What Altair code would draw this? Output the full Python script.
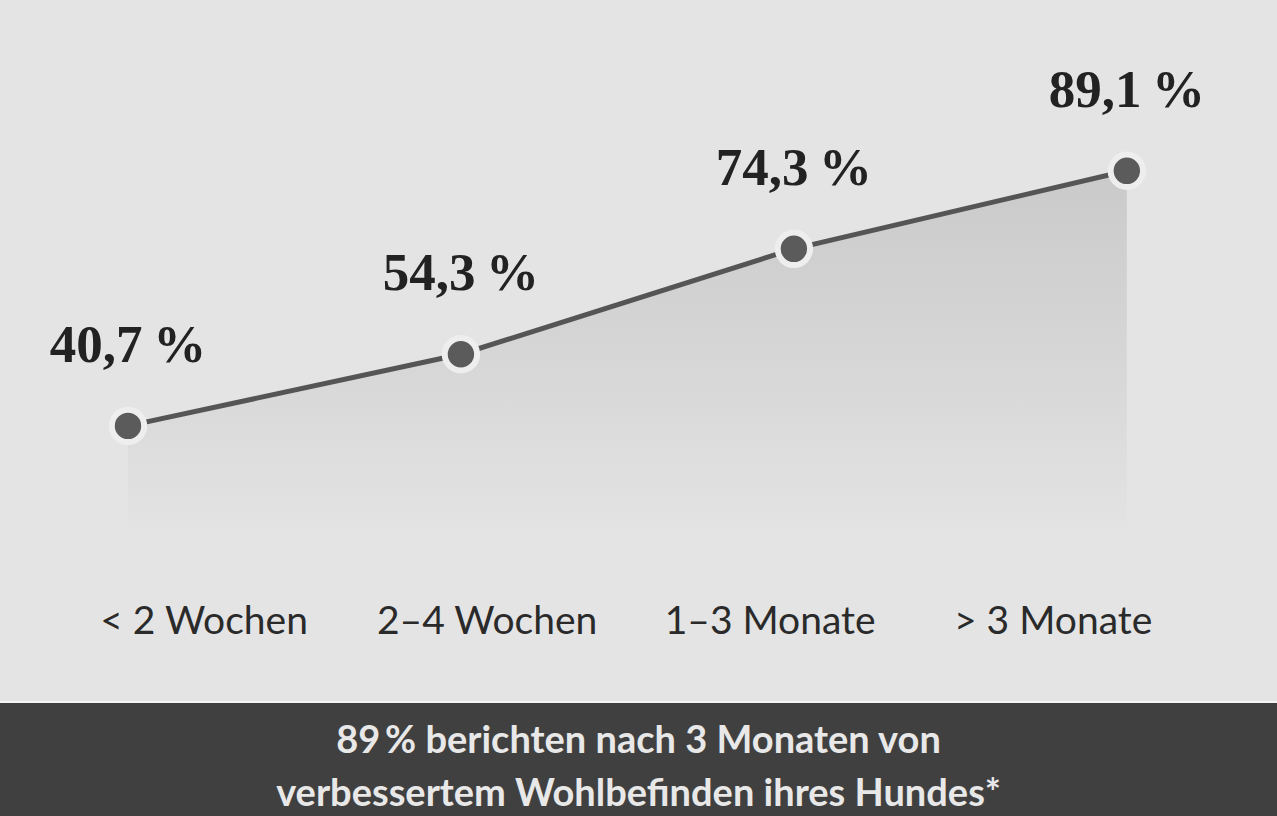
import altair as alt
import pandas as pd

categories = ["< 2 Wochen", "2–4 Wochen", "1–3 Monate", "> 3 Monate"]
values = [40.7, 54.3, 74.3, 89.1]
value_labels = ["40,7\u2009%", "54,3\u2009%", "74,3\u2009%", "89,1\u2009%"]
banner_lines = ["89\u2009% berichten nach 3 Monaten von", "verbessertem Wohlbefinden ihres Hundes*"]

df = pd.DataFrame({
    "idx": list(range(len(categories))),
    "cat": categories,
    "value": values,
    "label": value_labels,
})

W, H = 1277, 816
BG = "#e4e4e4"

xs = alt.Scale(domain=[-0.3844, 3.451], nice=False, zero=False)
ys = alt.Scale(domain=[-33.3, 121.5], nice=False, zero=False)

X = alt.X("idx:Q", scale=xs, axis=None)
Y = alt.Y("value:Q", scale=ys, axis=None)

base = alt.Chart(df)

area = base.mark_area(
    color=alt.Gradient(
        gradient="linear",
        stops=[alt.GradientStop(color="#cacaca", offset=0),
               alt.GradientStop(color="#d6d6d6", offset=0.5),
               alt.GradientStop(color=BG, offset=1)],
        x1=1, x2=1, y1=0, y2=1,
    )
).encode(x=X, y=Y, y2=alt.datum(19))

line = base.mark_line(color="#555555", strokeWidth=5).encode(x=X, y=Y)

pts = base.mark_point(
    filled=True, shape="circle", size=1050, fill="#5b5b5b", opacity=1,
    stroke="#eeeeee", strokeWidth=6, strokeOpacity=1
).encode(x=X, y=Y)

vlabels = base.mark_text(
    font="Liberation Serif", fontWeight="bold", fontSize=53, color="#222222",
    dy=-80, align="center", baseline="middle"
).encode(x=X, y=Y, text="label:N")

xl_scale = alt.Scale(domain=[-0.721, 3.791], nice=False, zero=False)
xlabels = base.mark_text(
    font="Lato", fontSize=39, color="#2a2a2a", align="center", baseline="middle"
).encode(x=alt.X("idx:Q", scale=xl_scale, axis=None), y=alt.value(622), text="cat:N")

one = alt.Chart(pd.DataFrame({"t": [""]}))
banner = one.mark_rect(color="#404040").encode(
    x=alt.value(0), x2=alt.value(W), y=alt.value(703), y2=alt.value(H)
)
edge = one.mark_rule(color="#f4f4f4", strokeWidth=2).encode(
    x=alt.value(0), x2=alt.value(W), y=alt.value(702)
)

bdf = pd.DataFrame({"line": banner_lines, "row": [0, 1]})
btext = alt.Chart(bdf).mark_text(
    font="Lato", fontSize=38, fontWeight="bold", color="#e8e8e8", align="center", baseline="middle"
).encode(
    x=alt.value(W / 2),
    y=alt.Y("row:Q", scale=alt.Scale(domain=[0, 1], range=[742, 795], nice=False, zero=False), axis=None),
    text="line:N",
)

chart = alt.layer(
    area, line, pts, vlabels, xlabels, banner, edge, btext
).resolve_scale(x="independent", y="independent").properties(
    width=W, height=H, padding=0,
    autosize=alt.AutoSizeParams(type="none"),
    background=BG,
).configure_view(stroke=None)

chart.save("out.html", embed_options={"renderer": "svg", "actions": False})
